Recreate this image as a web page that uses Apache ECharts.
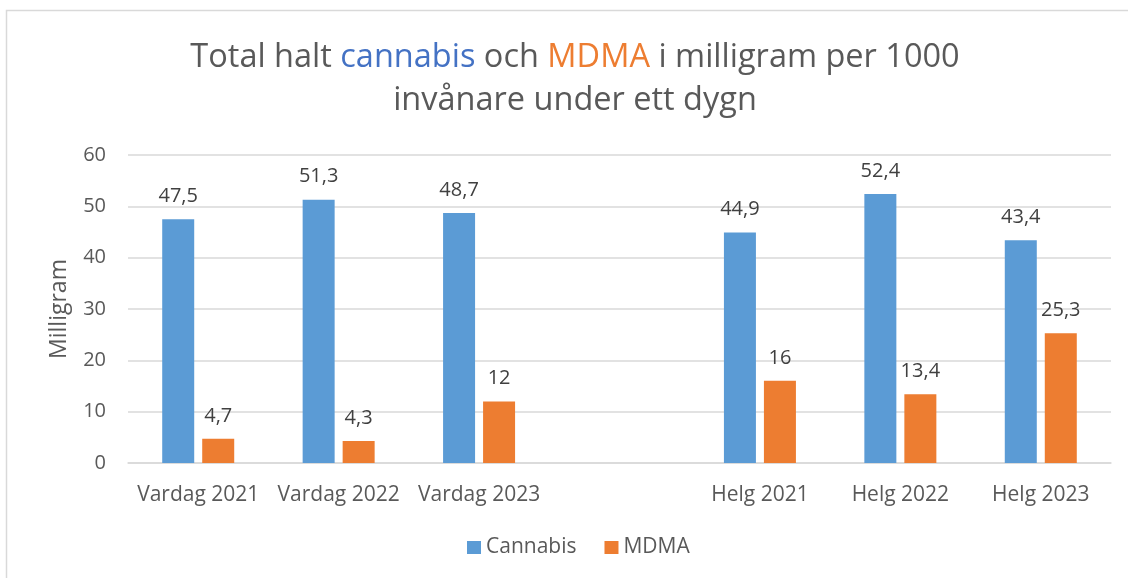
<!DOCTYPE html>
<html>
<head>
<meta charset="utf-8">
<script src="https://cdn.jsdelivr.net/npm/echarts@6/dist/echarts.min.js"></script>
<style>html,body{margin:0;padding:0;background:#fff}#c{width:1128px;height:578px}</style>
</head>
<body>
<div id="c"></div>
<script>
const categories = ['Vardag 2021', 'Vardag 2022', 'Vardag 2023', '', 'Helg 2021', 'Helg 2022', 'Helg 2023'];
const cannabis = [47.5, 51.3, 48.7, null, 44.9, 52.4, 43.4];
const mdma = [4.7, 4.3, 12, null, 16, 13.4, 25.3];
const seriesNames = ['Cannabis', 'MDMA'];
const yTicks = { min: 0, max: 60, interval: 10 };

const FONT = 'Open Sans';
const fmt = p => (p.value == null ? '' : String(p.value).replace('.', ','));
const chart = echarts.init(document.getElementById('c'), null, { renderer: 'canvas' });
const tStyle = c => ({ color: c, fontSize: 32.5, fontWeight: 'normal', fontFamily: FONT, lineHeight: 43 });
chart.setOption({
  animation: false,
  backgroundColor: '#ffffff',
  textStyle: { fontFamily: FONT },
  graphic: [{
    type: 'rect',
    shape: { x: 6.5, y: 10.5, width: 1200, height: 700 },
    style: { fill: 'none', stroke: '#D9D9D9', lineWidth: 1.5 },
    silent: true, z: -1
  }],
  title: {
    left: 570,
    textAlign: 'center',
    top: 31,
    text: '{g|Total halt }{b|cannabis}{g| och }{o|MDMA}{g| i milligram per 1000}\n{g|invånare under ett dygn}',
    textStyle: {
      fontFamily: FONT,
      fontWeight: 'normal',
      lineHeight: 43,
      rich: { g: tStyle('#595959'), b: tStyle('#4472C4'), o: tStyle('#ED7D31') }
    }
  },
  legend: {
    bottom: 15,
    left: 462,
    itemWidth: 14,
    itemHeight: 13,
    itemGap: 28,
    icon: 'rect',
    textStyle: { color: '#595959', fontSize: 21, fontFamily: FONT },
    data: seriesNames
  },
  grid: { left: 128, right: 17, top: 155, bottom: 115, containLabel: false },
  xAxis: {
    type: 'category',
    data: categories,
    axisTick: { show: false },
    axisLine: { lineStyle: { color: '#D9D9D9', width: 1.5 } },
    axisLabel: { color: '#595959', fontSize: 21, margin: 22, fontFamily: FONT, interval: 0 }
  },
  yAxis: {
    type: 'value',
    min: yTicks.min, max: yTicks.max, interval: yTicks.interval,
    name: 'Milligram',
    nameLocation: 'middle',
    nameGap: 57,
    nameTextStyle: { color: '#595959', fontSize: 23, fontFamily: FONT },
    axisLine: { show: false },
    axisTick: { show: false },
    axisLabel: { color: '#595959', fontSize: 20, margin: 22, fontFamily: FONT },
    splitLine: { lineStyle: { color: '#D9D9D9', width: 1.5 } }
  },
  series: [
    {
      name: seriesNames[0], type: 'bar', data: cannabis,
      barWidth: 32, barGap: '25%',
      itemStyle: { color: '#5B9BD5' },
      label: { show: true, position: 'top', distance: 13, color: '#404040', fontSize: 20, fontFamily: FONT, formatter: fmt }
    },
    {
      name: seriesNames[1], type: 'bar', data: mdma,
      barWidth: 32,
      itemStyle: { color: '#ED7D31' },
      label: { show: true, position: 'top', distance: 13, color: '#404040', fontSize: 20, fontFamily: FONT, formatter: fmt }
    }
  ]
});
</script>
</body>
</html>
